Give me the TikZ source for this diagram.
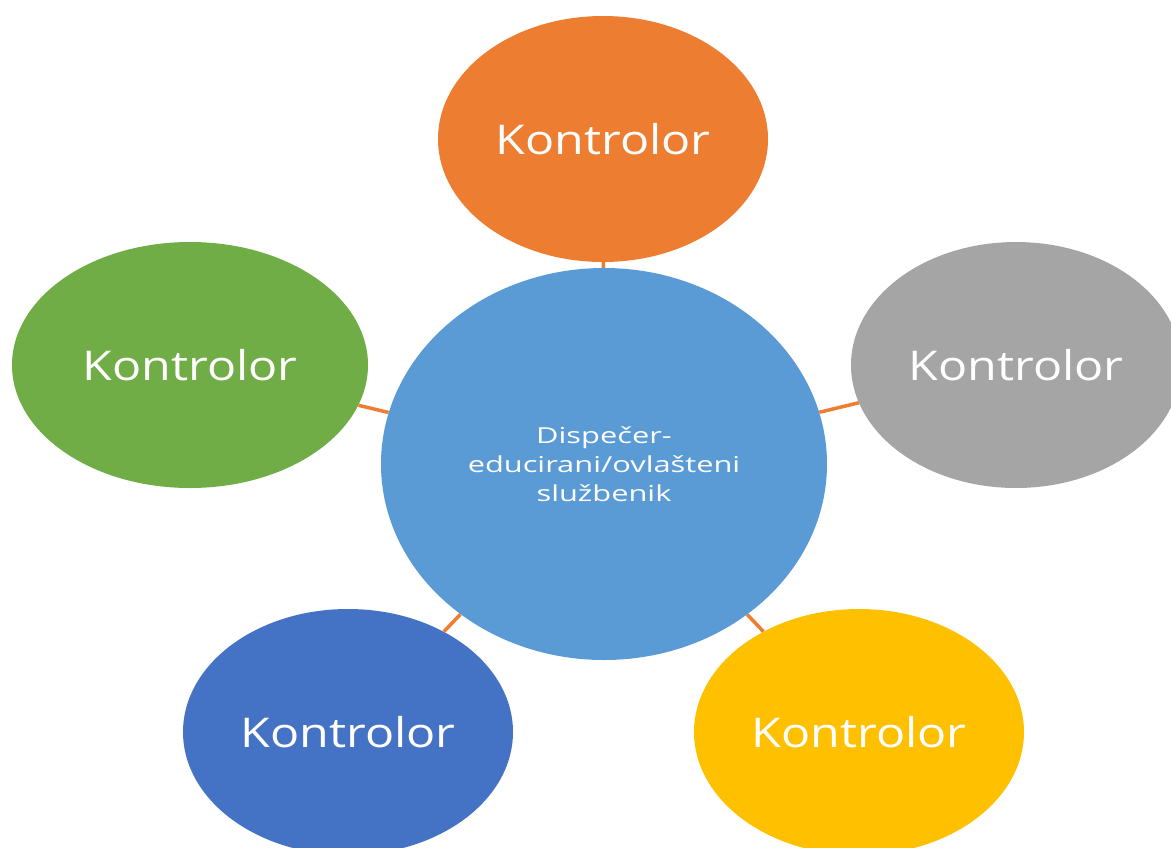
\documentclass[tikz,border=0pt]{standalone}
\usepackage{fontspec}
\setmainfont{Open Sans}
\newfontfamily\kfont[FakeStretch=1.18]{Open Sans}
\newfontfamily\hubfont[FakeStretch=1.4]{Open Sans}
\usepackage{tikz}
\usetikzlibrary{shapes.geometric}
\definecolor{korange}{HTML}{ED7D31}
\definecolor{kgreen}{HTML}{70AD47}
\definecolor{kgray}{HTML}{A5A5A5}
\definecolor{kblue}{HTML}{4472C4}
\definecolor{kyellow}{HTML}{FFC000}
\definecolor{khub}{HTML}{5B9BD5}
\tikzset{
  kontrolor/.style={ellipse,inner sep=0pt,minimum width=330pt,minimum height=246pt,
    text=white,font=\kfont\fontsize{41}{46}\selectfont},
  veza/.style={draw=korange,line width=3.5pt}
}

\begin{document}
\begin{tikzpicture}[x=1pt,y=-1pt]
                \useasboundingbox (0,0) rectangle (1171,847);
                \clip (0,0) rectangle (1171,847);
                \node[kontrolor,fill=korange] (top) at (603,139){Kontrolor};
                \node[kontrolor,fill=kgreen,minimum width=356pt] (left) at (190,365){Kontrolor};
                \node[kontrolor,fill=kgray] (right) at (1016,365){Kontrolor};
                \node[kontrolor,fill=kblue] (dl) at (348,732){Kontrolor};
                \node[kontrolor,fill=kyellow] (dr) at (859,732){Kontrolor};
                \node[ellipse,fill=khub,inner sep=0pt,minimum width=446pt,minimum height=392pt,
                  text=white,align=center,font=\hubfont\fontsize{22}{29}\selectfont] (hub) at (604,464)
                  {Dispečer-\\educirani/ovlašteni\\službenik};
                \draw[veza] (hub) -- (top);
                \draw[veza] (hub) -- (left);
                \draw[veza] (hub) -- (right);
                \draw[veza] (hub) -- (dl);
                \draw[veza] (hub) -- (dr);
              \end{tikzpicture}
\end{document}
